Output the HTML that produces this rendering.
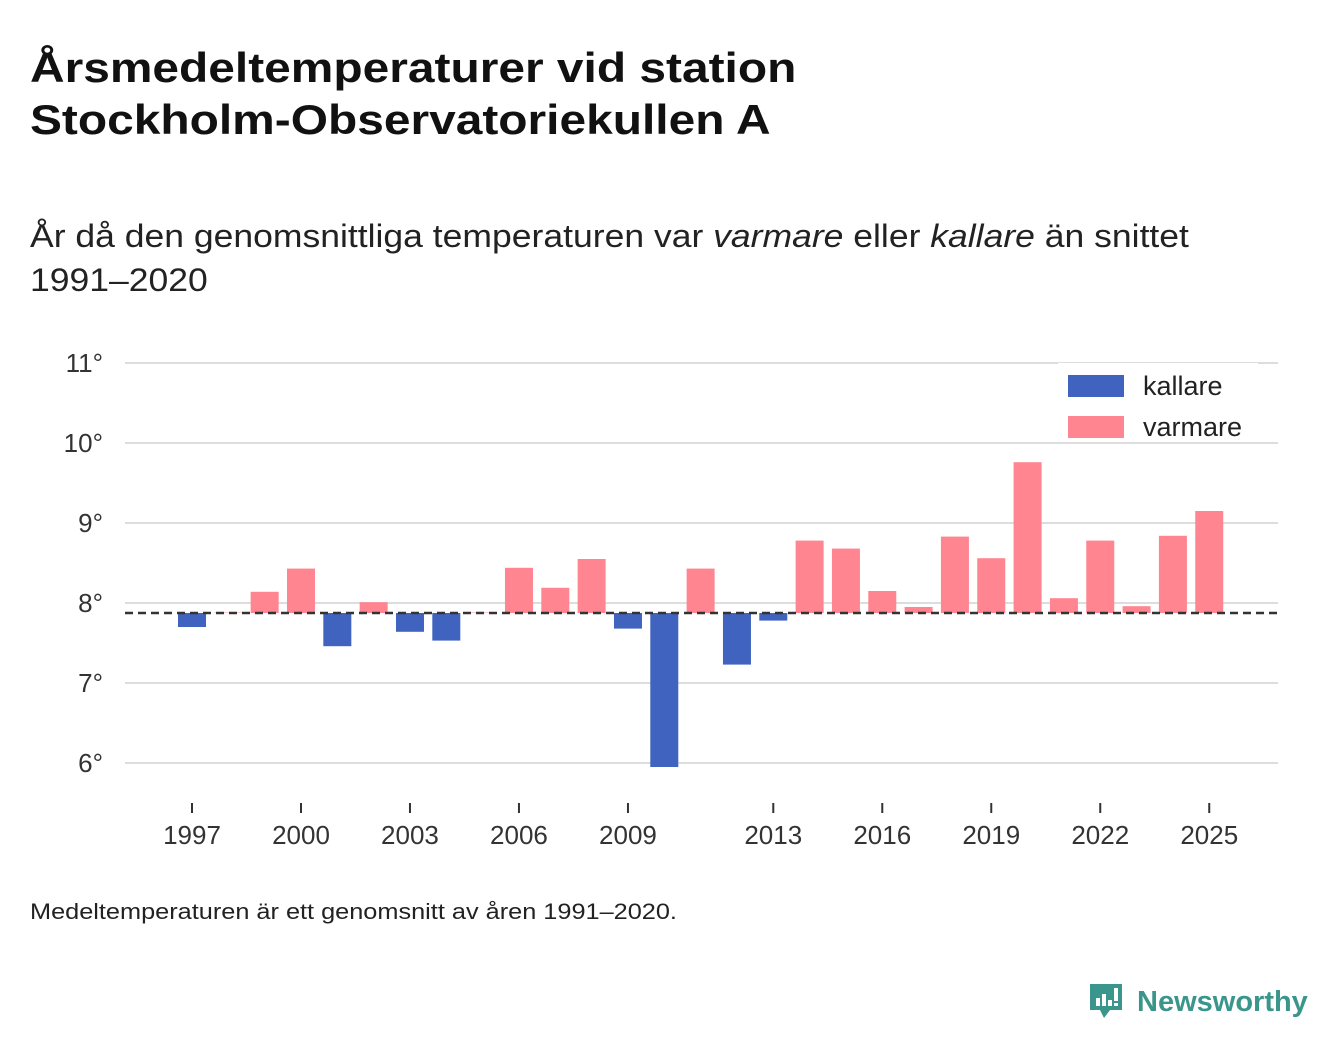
<!DOCTYPE html>
<html><head><meta charset="utf-8"><style>
body{margin:0;width:1340px;height:1056px;background:#fff;font-family:"Liberation Sans",sans-serif;color:#111;position:relative;overflow:hidden}
.t{position:absolute;left:30px;top:42px;font-size:42px;font-weight:bold;line-height:52px;transform:scaleX(1.14);transform-origin:0 0;white-space:nowrap}
.s{position:absolute;left:30px;top:214px;font-size:32px;line-height:44px;color:#222;transform:scaleX(1.11);transform-origin:0 0;white-space:nowrap}
.f{position:absolute;left:30px;top:899px;font-size:22px;color:#222;transform:scaleX(1.15);transform-origin:0 0;white-space:nowrap}
.logo{position:absolute;left:1088px;top:982px}
</style></head><body>
<div class="t">Årsmedeltemperaturer vid station<br>Stockholm-Observatoriekullen A</div>
<div class="s">År då den genomsnittliga temperaturen var <i>varmare</i> eller <i>kallare</i> än snittet<br>1991–2020</div>
<svg id="c" width="1340" height="1056" style="position:absolute;left:0;top:0"></svg>
<div class="f">Medeltemperaturen är ett genomsnitt av åren 1991–2020.</div>
<div class="logo">
<svg width="230" height="46"><path d="M2 2h32v26H22l-6 8-4-8H2z" fill="#3a968c"/><rect x="8" y="16" width="4" height="8" fill="#fff"/><rect x="14" y="12" width="4" height="12" fill="#fff"/><rect x="20" y="18" width="4" height="6" fill="#fff"/><rect x="26" y="6" width="4" height="13" fill="#fff"/><rect x="26" y="21" width="4" height="3" fill="#fff"/><text x="49" y="29" font-family="Liberation Sans,sans-serif" font-size="29" font-weight="bold" fill="#3a968c">Newsworthy</text></svg>
</div>
<script>
const years=[1997,1998,1999,2000,2001,2002,2003,2004,2005,2006,2007,2008,2009,2010,2011,2012,2013,2014,2015,2016,2017,2018,2019,2020,2021,2022,2023,2024,2025];
const temps=[7.70,7.88,8.14,8.43,7.46,8.01,7.64,7.53,7.88,8.44,8.19,8.55,7.68,5.95,8.43,7.23,7.78,8.78,8.68,8.15,7.95,8.83,8.56,9.76,8.06,8.78,7.96,8.84,9.15];
const baseline=7.875;
const yTicks=[6,7,8,9,10,11];
const xTicks=[1997,2000,2003,2006,2009,2013,2016,2019,2022,2025];
const NS="http://www.w3.org/2000/svg";
const svg=document.getElementById('c');
const y=v=>603-(v-8)*80;
const x=yr=>192+(yr-1997)*36.33;
function mk(t,a){const e=document.createElementNS(NS,t);for(const k in a)e.setAttribute(k,a[k]);svg.appendChild(e);return e;}
yTicks.forEach(v=>{
 const l=mk('line',{x1:125,x2:1278,y1:y(v),y2:y(v),stroke:'#ddd','stroke-width':2});
 
 
 const t=mk('text',{x:103,y:y(v)+9,'text-anchor':'end','font-size':26,fill:'#333','font-family':'Liberation Sans,sans-serif'});
 t.textContent=v+'°';
 
 
});
years.forEach((yr,i)=>{
 const v=temps[i];const top=Math.min(y(v),y(baseline)),h=Math.abs(y(v)-y(baseline));
 const r=mk('rect',{x:x(yr)-14,y:top,width:28,height:h,fill:v>=baseline?'#ff8591':'#3f63be'});
 
 
});
const bl=mk('line',{x1:125,x2:1278,y1:y(baseline),y2:y(baseline),stroke:'#333','stroke-width':2.5,'stroke-dasharray':'8,5'});


xTicks.forEach(yr=>{
 const l=mk('line',{x1:x(yr),x2:x(yr),y1:803,y2:813,stroke:'#333','stroke-width':2});
 
 
 const t=mk('text',{x:x(yr),y:844,'text-anchor':'middle','font-size':26,fill:'#333','font-family':'Liberation Sans,sans-serif'});
 t.textContent=yr;
 
 
});
const lg=mk('rect',{x:1058,y:363,width:200,height:78,fill:'#fff'});


[['kallare','#3f63be',375],['varmare','#ff8591',416]].forEach(([n,c,yy])=>{
 const r=mk('rect',{x:1068,y:yy,width:56,height:22,fill:c});
 
 
 const t=mk('text',{x:1143,y:yy+20,'font-size':27,fill:'#222','font-family':'Liberation Sans,sans-serif'});
 t.textContent=n;
 
 
});
</script>
</body></html>
